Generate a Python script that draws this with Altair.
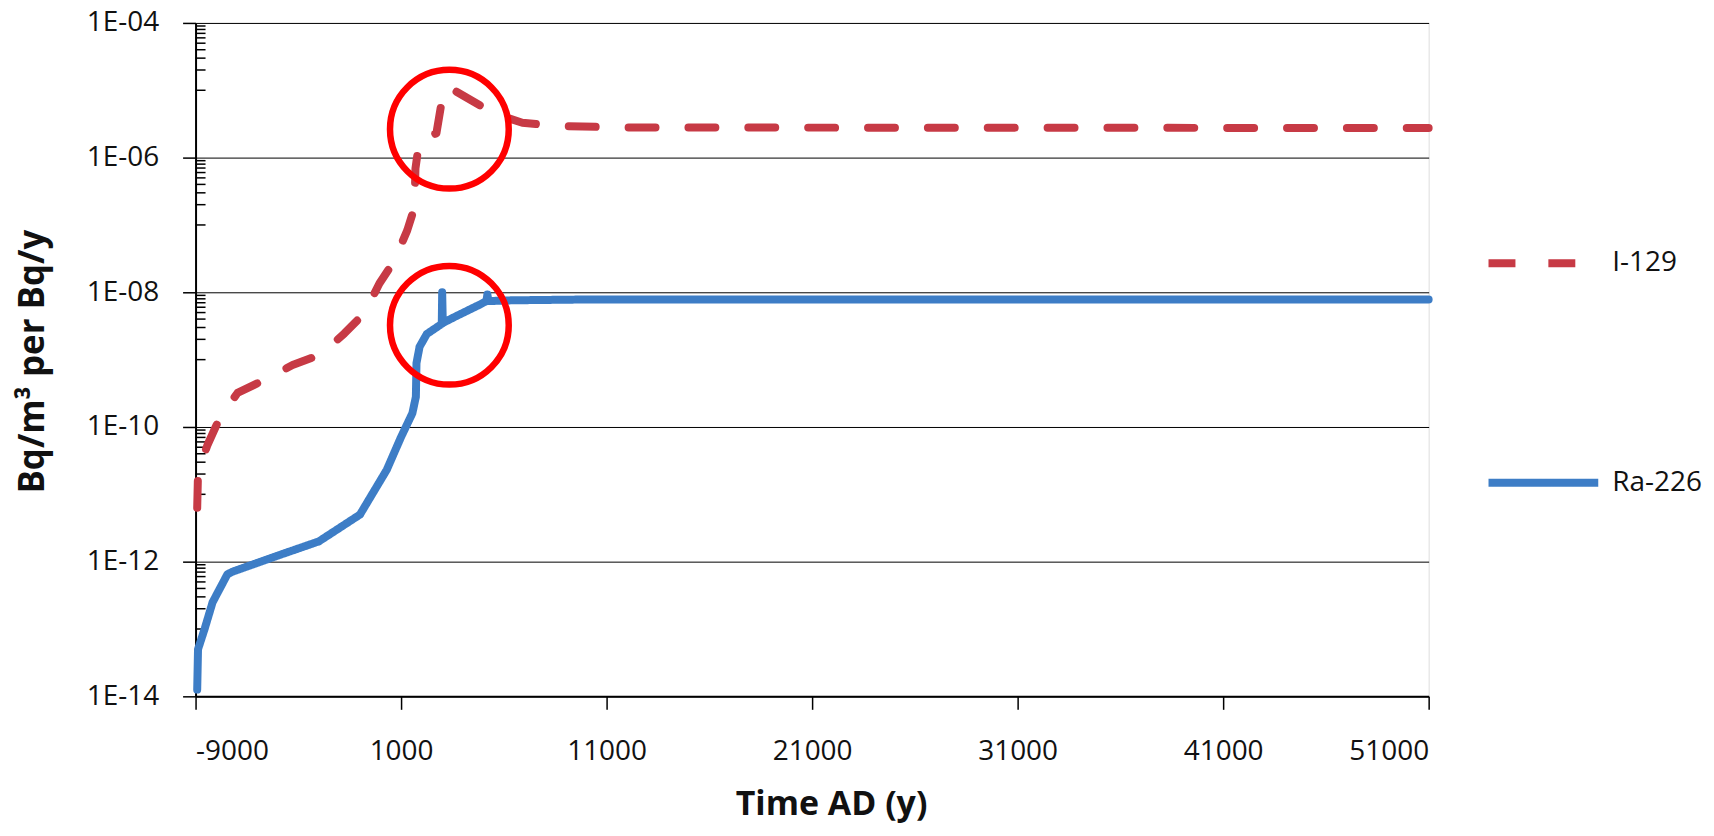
import altair as alt
import pandas as pd

# ---- data ----
i129_x = [-8920, -8880, -8420, -7830, -6960, -5650, -4280, -2880, -1760, -780, -55, 675,
          1300, 1650, 1700, 1890, 2720, 2960, 3050, 3350, 4180, 5540, 6900, 8450, 12000, 51000]
i129_y = [6.3e-12, 2.1e-11, 5.4e-11, 1.35e-10, 3.2e-10, 5.0e-10, 8.3e-10, 1.2e-9, 2.45e-9, 4.9e-9,
          1.35e-8, 2.95e-8, 8.3e-8, 1.8e-7, 6.9e-7, 1.8e-6, 2.3e-6, 6.3e-6, 1.0e-5, 1.1e-5,
          7.8e-6, 4.5e-6, 3.3e-6, 2.95e-6, 2.8e-6, 2.75e-6]

ra226_x = [-8920, -8880, -8560, -8170, -7450, -7200, -4900, -3000, -1000, 300, 1000, 1550,
           1720, 1750, 1900, 2250, 2720, 2980, 3000, 3030, 3600, 4800, 5150, 5200, 5250,
           6400, 9700, 51000]
ra226_y = [1.26e-14, 5.0e-14, 1.0e-13, 2.5e-13, 6.5e-13, 7.1e-13, 1.26e-12, 2.0e-12, 5.0e-12,
           2.3e-11, 7.1e-11, 1.6e-10, 2.8e-10, 8.9e-10, 1.55e-9, 2.4e-9, 3.0e-9, 3.4e-9,
           1.0e-8, 3.5e-9, 4.3e-9, 6.5e-9, 7.4e-9, 9.3e-9, 7.4e-9, 7.6e-9, 7.8e-9, 7.8e-9]

series_names = ["I-129", "Ra-226"]
series_colors = ["#C73A45", "#3D7DC6"]
series_dash = [[27, 33], [1, 0]]

x_ticks = [-9000, 1000, 11000, 21000, 31000, 41000, 51000]
y_ticks = [1e-4, 1e-6, 1e-8, 1e-10, 1e-12, 1e-14]
minor_exps = [-5, -7, -9, -11, -13]
minor_ticks = [k * 10.0 ** e for e in minor_exps for k in range(1, 10)]

# highlight circles (centres in data units)
circle_x = [3350, 3350]
circle_y = [2.64e-6, 3.24e-9]

FONT = "Open Sans"

df = pd.concat([
    pd.DataFrame({"x": i129_x, "y": i129_y, "series": "I-129"}),
    pd.DataFrame({"x": ra226_x, "y": ra226_y, "series": "Ra-226"}),
], ignore_index=True)

xscale = alt.Scale(domain=[-9000, 51000], nice=False, zero=False)
yscale = alt.Scale(type="log", domain=[1e-14, 1e-4], nice=False)

legend = alt.Legend(
    orient="none", legendX=1292, legendY=182, title=None,
    symbolType="stroke", symbolSize=12100, symbolStrokeWidth=8,
    labelFont=FONT, labelFontSize=28, labelColor="#111111",
    rowPadding=145, labelOffset=10, padding=0,
)

lines = alt.Chart(df).mark_line(strokeWidth=8, strokeCap="round", strokeJoin="round").encode(
    x=alt.X("x:Q", scale=xscale,
            axis=alt.Axis(values=x_ticks, title="Time AD (y)", grid=False,
                          labelExpr="toString(datum.value)",
                          tickSize=13, tickWidth=1.5, tickColor="black",
                          domainColor="black", domainWidth=2,
                          labelFont=FONT, labelFontSize=28, labelColor="#111111",
                          labelPadding=42, labelBaseline="middle",
                          titleFont=FONT, titleFontSize=34, titleFontWeight="bold",
                          titleColor="#111111", titleX=637, titleY=118,
                          titleBaseline="alphabetic", titleAlign="center")),
    y=alt.Y("y:Q", scale=yscale,
            axis=alt.Axis(values=y_ticks, title="Bq/m³ per Bq/y", grid=True,
                          gridColor="black", gridWidth=1, gridOpacity=1,
                          labelExpr="round(-log(datum.value)/LN10) < 10 ? '1E-0' + round(-log(datum.value)/LN10) : '1E-' + round(-log(datum.value)/LN10)",
                          tickSize=13, tickWidth=1.5, tickColor="black",
                          domainColor="black", domainWidth=2,
                          labelFont=FONT, labelFontSize=28, labelColor="#111111",
                          labelPadding=24,
                          titleFont=FONT, titleFontSize=35, titleFontWeight="bold",
                          titleColor="#111111", titleX=-152, titleY=339,
                          titleBaseline="alphabetic", titleAlign="center")),
    color=alt.Color("series:N", scale=alt.Scale(domain=series_names, range=series_colors),
                    legend=legend),
    strokeDash=alt.StrokeDash("series:N", scale=alt.Scale(domain=series_names, range=series_dash),
                              legend=legend),
)

minor = alt.Chart(pd.DataFrame({"m": minor_ticks})).mark_rule(
    color="black", strokeWidth=1.5
).encode(
    y=alt.Y("m:Q", scale=yscale),
    x=alt.value(0), x2=alt.value(10),
)

circles = alt.Chart(pd.DataFrame({"cx": circle_x, "cy": circle_y})).mark_point(
    shape="circle", filled=False, color="#FF0000", strokeWidth=6.5, size=14161, opacity=1
).encode(
    x=alt.X("cx:Q", scale=xscale),
    y=alt.Y("cy:Q", scale=yscale),
)

chart = alt.layer(minor, lines, circles).properties(
    width=1236, height=675,
    autosize=alt.AutoSizeParams(type="none"),
    padding={"left": 188, "top": 14, "right": 278, "bottom": 127},
).configure_view(
    stroke="black", strokeWidth=1.5
).configure(background="white")

chart.save("out.html", embed_options={"renderer": "svg", "actions": False})
